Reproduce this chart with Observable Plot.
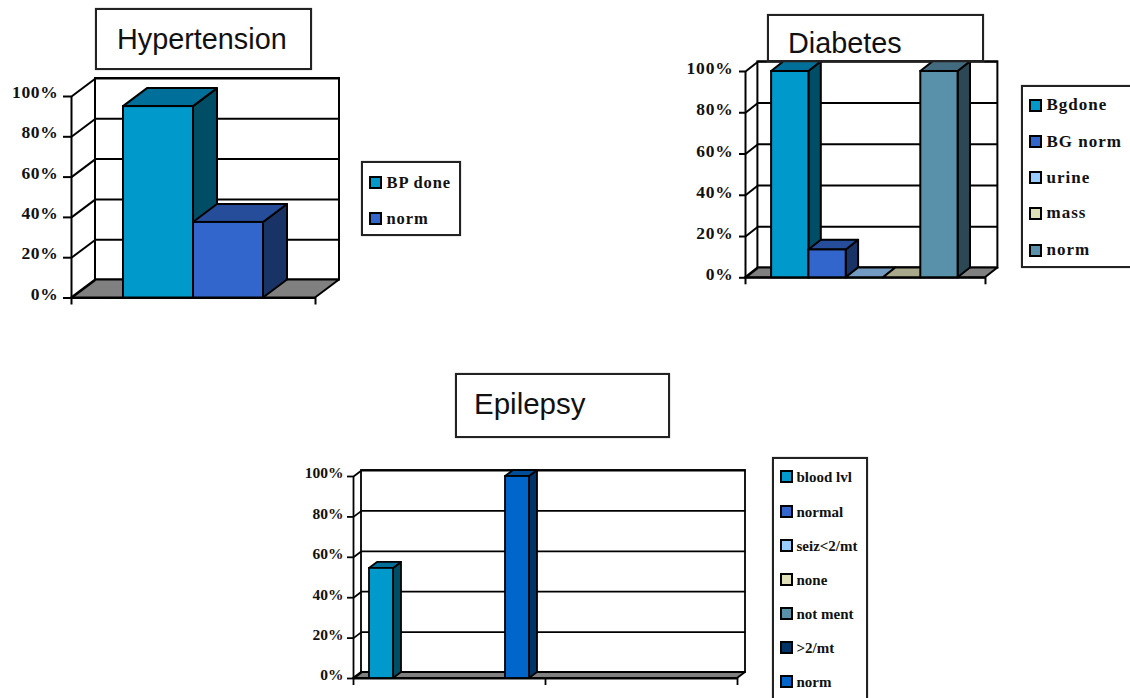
<!DOCTYPE html>
<html>
<head>
<meta charset="utf-8">
<script src="https://cdn.jsdelivr.net/npm/d3@7"></script>
<script src="https://cdn.jsdelivr.net/npm/@observablehq/plot@0.6"></script>
<style>
  html, body { margin: 0; padding: 0; background: #fff; }
  #page { position: relative; width: 1130px; height: 698px; overflow: hidden; background: #fff; }
  .panel { position: absolute; }
  .panel svg { display: block; background: transparent; }
  .title { position: absolute; box-sizing: border-box; background: #fff; border: 2px solid #222;
           box-shadow: 0 0 1px #777; font-family: "Liberation Sans", Arial, sans-serif; color: #111; white-space: nowrap; }
  .legend { position: absolute; box-sizing: border-box; background: #fff; border: 2px solid #222; box-shadow: 0 0 1px #777; }
  .legend div { position: absolute; white-space: nowrap; font-family: "Liberation Serif", "Times New Roman", serif;
                font-weight: bold; color: #111; }
  .legend i { position: absolute; box-sizing: border-box; border: 2px solid #000; }
</style>
</head>
<body>
<div id="page"></div>
<script>
// Percent of patients meeting each audit criterion, by condition.
const hypertensionSeries = ["BP done", "norm"];
const hypertensionValues = [95, 37.5];

const diabetesSeries = ["Bgdone", "BG norm", "urine", "mass", "norm"];
const diabetesValues = [100, 13.5, 0, 0, 100];

const epilepsySeries = ["blood lvl", "normal", "seiz<2/mt", "none", "not ment", ">2/mt", "norm"];
const epilepsyValues = [54.5, 0, 0, 0, 0, 0, 100];

const percentTicks = [0, 20, 40, 60, 80, 100];

// Front, top and side shades for each series colour.
const shades = {
  teal:  ["#0099cc", "#006f99", "#004d66"],
  blue:  ["#3366cc", "#264d99", "#1a3366"],
  sky:   ["#99ccff", "#739ac0", "#4d6680"],
  sand:  ["#e0e0b8", "#a8a88a", "#70705c"],
  slate: ["#5990aa", "#426b80", "#2c4855"],
  navy:  ["#003366", "#00264d", "#001a33"],
  royal: ["#0066cc", "#004d99", "#003366"]
};
const hypertensionColors = ["teal", "blue"];
const diabetesColors = ["teal", "blue", "sky", "sand", "slate"];
const epilepsyColors = ["teal", "blue", "sky", "sand", "slate", "navy", "royal"];

// Draws one pseudo-3D column chart in data units: x counts column widths, y is percent.
function column3d(c) {
  const left = c.frontX - c.marginLeft;
  const top = c.frontTop - c.marginTop;
  const plotW = c.plotWidth + c.depthPx[0];
  const pxPerPct = (c.frontBottom - c.frontTop) / 100;
  const depthX = c.depthPx[0] / c.columnPx;
  const depthY = c.depthPx[1] / pxPerPct;
  const span = c.plotWidth / c.columnPx;
  const ink = { stroke: "#000", strokeWidth: c.line };

  const floor = [{ y: 0, x1: 0, x2: span }, { y: depthY, x1: depthX, x2: span + depthX }];
  const marks = [
    Plot.rect([0], { x1: depthX, x2: span + depthX, y1: depthY, y2: 100 + depthY, fill: "#fff", ...ink }),
    Plot.areaX(floor, { y: "y", x1: "x1", x2: "x2", fill: "#808080", ...ink }),
    Plot.link(percentTicks.slice(1), { x1: depthX, x2: span + depthX, y1: d => d + depthY, y2: d => d + depthY, ...ink }),
    Plot.link(percentTicks, { x1: 0, x2: depthX, y1: d => d, y2: d => d + depthY, ...ink }),
    Plot.ruleX([0], { y1: 0, y2: 100, ...ink }),
    Plot.ruleY([0], { x1: 0, x2: span, ...ink }),
    // Tick marks and their labels are separate axes so the labels can sit above the tick.
    Plot.axisY({ ticks: percentTicks, tickSize: c.tick, tickFormat: () => "", label: null,
                 stroke: "#000", strokeWidth: c.line }),
    Plot.axisY({ ticks: percentTicks, tickSize: 0, tickPadding: c.pad, dy: c.labelLift, tickFormat: d => d + "%", label: null,
                 fontSize: c.tickFont, fill: "#111" }),
    Plot.axisX({ ticks: c.xTicks.map(t => t / c.columnPx), tickSize: 7, tickFormat: () => "", label: null,
                 stroke: "#000", strokeWidth: c.line })
  ];

  c.values.forEach((v, i) => {
    if (c.hidden.includes(i)) return;
    const x0 = c.slots[i], x1 = x0 + 1;
    const [front, topFace, side] = shades[c.colors[i]];
    const topEdge = [{ y: v, a: x0, b: x1 }, { y: v + depthY, a: x0 + depthX, b: x1 + depthX }];
    const sideEdge = [{ x: x1, a: 0, b: v }, { x: x1 + depthX, a: depthY, b: v + depthY }];
    marks.push(
      Plot.areaY(sideEdge, { x: "x", y1: "a", y2: "b", fill: side, ...ink }),
      Plot.areaX(topEdge, { y: "y", x1: "a", x2: "b", fill: topFace, ...ink }),
      Plot.rect([v], { x1: x0, x2: x1, y1: 0, y2: d => d, fill: front, ...ink })
    );
  });

  const height = c.frontBottom - top + 12;
  const chart = Plot.plot({
    width: c.marginLeft + plotW + 4,
    height,
    marginLeft: c.marginLeft,
    marginRight: 4,
    marginTop: c.marginTop - c.depthPx[1],
    marginBottom: 12,
    x: { domain: [0, span + depthX], range: [c.marginLeft, c.marginLeft + plotW] },
    y: { domain: [0, 100 + depthY], range: [c.frontBottom - top, c.frontTop - top - c.depthPx[1]] },
    style: { fontFamily: "Liberation Serif, Times New Roman, serif", fontWeight: "bold",
             letterSpacing: c.spacing, background: "transparent", overflow: "visible" },
    marks
  });
  const panel = document.createElement("div");
  panel.className = "panel";
  panel.style.left = left + "px";
  panel.style.top = top + "px";
  panel.appendChild(chart);
  document.getElementById("page").appendChild(panel);
}

function titleBox(text, box, textX, textY, size) {
  const el = document.createElement("div");
  el.className = "title";
  el.textContent = text;
  Object.assign(el.style, {
    left: box[0] + "px", top: box[1] + "px", width: box[2] + "px", height: box[3] + "px",
    fontSize: size + "px", paddingLeft: textX + "px", lineHeight: (box[3] + textY) + "px"
  });
  document.getElementById("page").appendChild(el);
}

function legendBox(names, colors, box, rows, swatchX, swatch, textX, font, spacing) {
  const el = document.createElement("div");
  el.className = "legend";
  Object.assign(el.style, { left: box[0] + "px", top: box[1] + "px", width: box[2] + "px", height: box[3] + "px" });
  names.forEach((name, i) => {
    const cy = rows[i] - box[1] - 2;
    const sw = document.createElement("i");
    Object.assign(sw.style, { left: (swatchX - box[0] - 2) + "px", top: (cy - swatch / 2) + "px",
                              width: swatch + "px", height: swatch + "px", background: shades[colors[i]][0] });
    const label = document.createElement("div");
    label.textContent = name;
    Object.assign(label.style, { left: (textX - box[0] - 2) + "px", top: (cy + 1 - font * 0.62) + "px",
                                 fontSize: font + "px", letterSpacing: spacing, lineHeight: (font * 1.2) + "px" });
    el.append(sw, label);
  });
  document.getElementById("page").appendChild(el);
}

column3d({
  values: hypertensionValues, colors: hypertensionColors, hidden: [],
  frontX: 71, frontTop: 96, frontBottom: 297.5, plotWidth: 244, columnPx: 70, depthPx: [24, 18],
  slots: [52 / 70, 122 / 70], xTicks: [0, 244],
  marginLeft: 66, marginTop: 24, line: 2, tick: 8, pad: 13, labelLift: -4, tickFont: 17.5, spacing: "0.7px"
});
column3d({
  values: diabetesValues, colors: diabetesColors, hidden: [],
  frontX: 745, frontTop: 70.7, frontBottom: 277, plotWidth: 240, columnPx: 37.3, depthPx: [12.4, 9.7],
  slots: [0.7, 1.7, 2.7, 3.7, 4.7], xTicks: [0, 240],
  marginLeft: 66, marginTop: 16, line: 2, tick: 6, pad: 12, labelLift: -3, tickFont: 17.5, spacing: "0.8px"
});
column3d({
  values: epilepsyValues, colors: epilepsyColors, hidden: [1, 2, 3, 4, 5],
  frontX: 352.7, frontTop: 476, frontBottom: 678, plotWidth: 384, columnPx: 24, depthPx: [8, 6],
  slots: [16 / 24, 0, 0, 0, 0, 0, 152 / 24], xTicks: [0, 192, 384],
  marginLeft: 60, marginTop: 12, line: 1.8, tick: 6, pad: 10, labelLift: -3, tickFont: 15.5, spacing: "0"
});

titleBox("Hypertension", [95, 8, 217, 62], 20, -4, 28.8);
titleBox("Diabetes", [767, 14, 217, 48], 19, 6, 28.8);
titleBox("Epilepsy", [455, 373, 215, 65], 17, -8, 29.5);

legendBox(hypertensionSeries, hypertensionColors, [361, 161, 100, 75], [182, 218], 368.5, 13, 386.5, 16.5, "0.9px");
legendBox(diabetesSeries, diabetesColors, [1021, 85, 112, 183], [105, 141.5, 177.5, 213, 250], 1028.5, 13, 1046.5, 17, "1px");
legendBox(epilepsySeries, epilepsyColors, [772, 457, 96, 245], [476, 511, 545, 579, 613, 647, 681], 780, 13, 796.5, 15, "0");
</script>
</body>
</html>
